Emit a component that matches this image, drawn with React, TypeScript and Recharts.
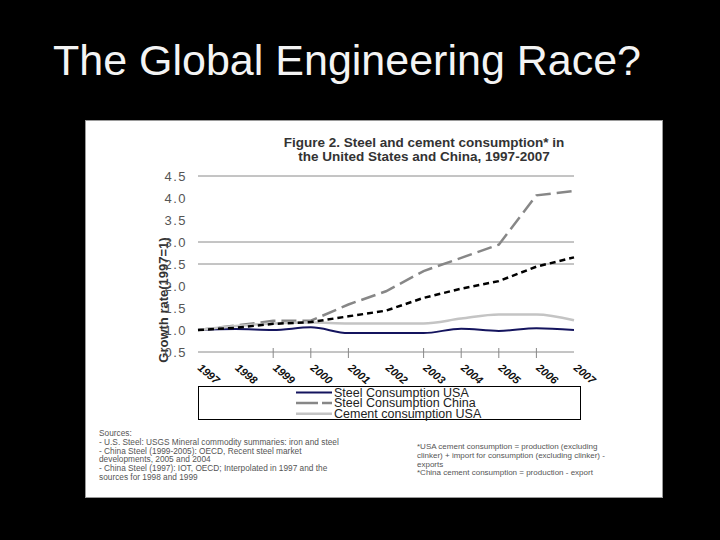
import React from 'react';
import { LineChart, Line, XAxis, YAxis, ReferenceLine } from 'recharts';

const years = ['1997', '1998', '1999', '2000', '2001', '2002', '2003', '2004', '2005', '2006', '2007'];
const steelUSA = [1.0, 1.02, 1.0, 1.06, 0.93, 0.93, 0.93, 1.03, 0.98, 1.04, 1.0];
const steelChina = [1.0, 1.1, 1.21, 1.21, 1.58, 1.88, 2.34, 2.64, 2.94, 4.06, 4.16];
const cementUSA = [1.0, 1.09, 1.15, 1.17, 1.15, 1.15, 1.15, 1.26, 1.35, 1.35, 1.22];
const cementChina = [1.0, 1.05, 1.14, 1.18, 1.31, 1.44, 1.73, 1.94, 2.11, 2.44, 2.65];

const yTicks = [0.5, 1.0, 1.5, 2.0, 2.5, 3.0, 3.5, 4.0, 4.5];
const gridValues = [4.5, 3.0, 2.5];
const tickMarkYears = ['1999', '2000', '2001', '2003', '2004', '2005', '2006'];

const seriesNames = [
  'Steel Consumption USA',
  'Steel Consumption China',
  'Cement consumption USA',
  'Cement consumption China',
];
const legendCount = 3;

const pageTitle = 'The Global Engineering Race?';
const chartTitle = ['Figure 2. Steel and cement consumption* in', 'the United States and China, 1997-2007'];
const yLabel = 'Growth rate(1997=1)';
const sourcesLeft = [
  'Sources:',
  '- U.S. Steel: USGS Mineral commodity summaries: iron and steel',
  '- China Steel (1999-2005): OECD, Recent steel market',
  'developments, 2005 and 2004',
  '- China Steel (1997): IOT, OECD; Interpolated in 1997 and the',
  'sources for 1998 and 1999',
];
const sourcesRight = [
  '*USA cement consumption = production (excluding',
  'clinker) + import for consumption (excluding clinker) -',
  'exports',
  '*China cement consumption = production - export',
];

const data = years.map((y, i) => ({
  year: y,
  steelUSA: steelUSA[i],
  steelChina: steelChina[i],
  cementUSA: cementUSA[i],
  cementChina: cementChina[i],
}));

const styles = [
  { key: 'steelUSA', color: '#14145e', width: 2, dash: undefined as string | undefined, type: 'monotone' as const },
  { key: 'steelChina', color: '#878787', width: 2.5, dash: '15 6', type: 'linear' as const },
  { key: 'cementUSA', color: '#c4c4c4', width: 2.5, dash: undefined as string | undefined, type: 'monotone' as const },
  { key: 'cementChina', color: '#000000', width: 2.5, dash: '6 4', type: 'linear' as const },
];

const FONT = '"Liberation Sans", Arial, Helvetica, sans-serif';

const XTick = (props: any) => {
  const { x, y, payload } = props;
  const v = String(payload.value);
  const tx = x - 1;
  const ty = y + 17;
  return (
    <g>
      {tickMarkYears.includes(v) && <line x1={x} x2={x} y1={y - 4} y2={y + 6} stroke="#888" strokeWidth={1} />}
      <text
        x={tx}
        y={ty}
        transform={`rotate(40 ${tx} ${ty})`}
        fontFamily={FONT}
        fontSize={11}
        fontWeight="bold"
        fontStyle="italic"
        fill="#111"
        textAnchor="start"
      >
        {v}
      </text>
    </g>
  );
};

export default function App() {
  return (
    <div style={{ position: 'fixed', left: 0, top: 0, width: 720, height: 540, background: '#000', overflow: 'hidden' }}>
      <svg width={720} height={540} style={{ position: 'absolute', left: 0, top: 0 }}>
        <text x={53} y={75} fontFamily={FONT} fontSize={43} fill="#f4f4f4">
          {pageTitle}
        </text>
        <rect x={85.5} y={120.5} width={577} height={377} fill="#fff" stroke="#9a9a9a" />
        {chartTitle.map((t, i) => (
          <text key={i} x={424} y={147 + i * 14} textAnchor="middle" fontFamily={FONT} fontSize={13.5} fontWeight="bold" fill="#333">
            {t}
          </text>
        ))}
        <text
          x={168}
          y={300}
          transform="rotate(-90 168 300)"
          textAnchor="middle"
          fontFamily={FONT}
          fontSize={13}
          fontWeight="bold"
          fill="#333"
        >
          {yLabel}
        </text>
        <rect x={198.5} y={386.5} width={382} height={33} fill="none" stroke="#000" strokeWidth={1} />
        {seriesNames.slice(0, legendCount).map((name, i) => {
          const s = styles[i];
          const cy = 392.5 + i * 10.6;
          return (
            <g key={name}>
              <line x1={296} x2={332} y1={cy} y2={cy} stroke={s.color} strokeWidth={s.width} strokeDasharray={s.dash ? '22 4' : undefined} />
              <text x={334} y={cy + 4.3} fontFamily={FONT} fontSize={12.5} fill="#222">
                {name}
              </text>
            </g>
          );
        })}
        {sourcesLeft.map((t, i) => (
          <text key={i} x={99} y={436 + i * 8.8} fontFamily={FONT} fontSize={8.3} fill="#555">
            {t}
          </text>
        ))}
        {sourcesRight.map((t, i) => (
          <text key={i} x={417} y={449 + i * 8.8} fontFamily={FONT} fontSize={8} fill="#555">
            {t}
          </text>
        ))}
      </svg>
      <div style={{ position: 'absolute', left: 0, top: 0 }}>
        <LineChart width={720} height={540} data={data} margin={{ top: 176, right: 146, bottom: 158, left: 138 }}>
          {gridValues.map((g) => (
            <ReferenceLine key={g} y={g} stroke="#8a8a8a" strokeWidth={1} ifOverflow="extendDomain" />
          ))}
          <XAxis
            dataKey="year"
            interval={0}
            height={30}
            tickSize={0}
            tickMargin={0}
            tickLine={false}
            axisLine={{ stroke: '#8a8a8a', strokeWidth: 1 }}
            tick={XTick}
          />
          <YAxis
            width={60}
            domain={[0.5, 4.5]}
            ticks={yTicks}
            type="number"
            allowDataOverflow
            axisLine={false}
            tickLine={false}
            tickSize={0}
            tickMargin={11}
            tickFormatter={(v: number) => v.toFixed(1)}
            tick={{ fontFamily: FONT, fontSize: 13, fill: '#555', letterSpacing: 1.5 }}
          />
          {styles.map((s, i) => (
            <Line
              key={s.key}
              dataKey={s.key}
              name={seriesNames[i]}
              type={s.type}
              stroke={s.color}
              strokeWidth={s.width}
              strokeDasharray={s.dash}
              dot={false}
              activeDot={false}
              isAnimationActive={false}
            />
          ))}
        </LineChart>
      </div>
    </div>
  );
}
